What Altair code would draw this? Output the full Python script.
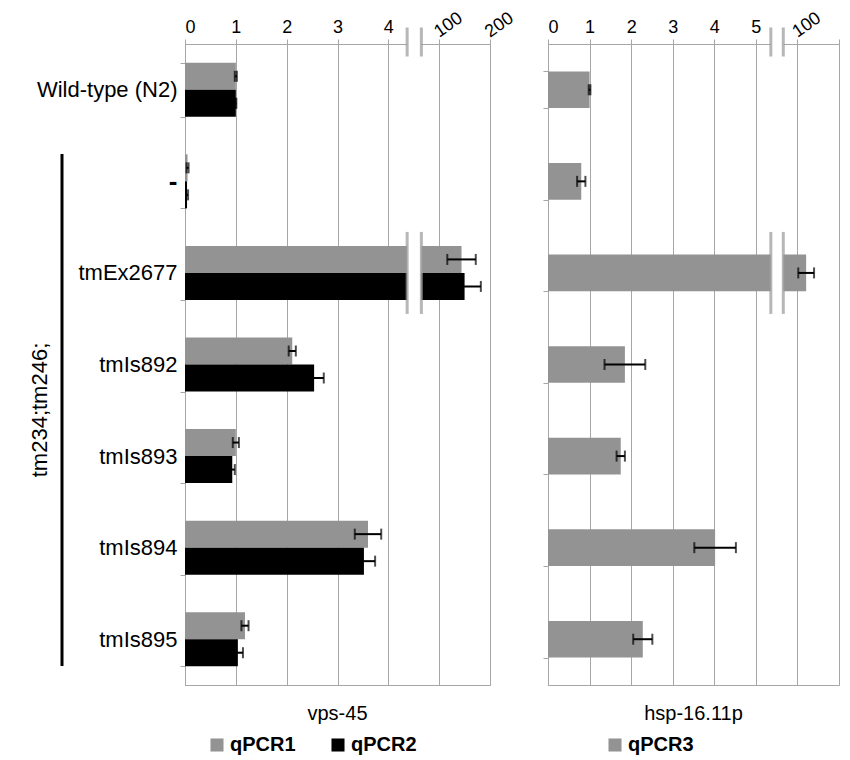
import altair as alt
import pandas as pd

FONT = "Liberation Sans"
GRAY = "#939393"
AXIS_GRAY = "#a6a6a6"

strains = ["Wild-type (N2)", "-", "tmEx2677", "tmIs892", "tmIs893", "tmIs894", "tmIs895"]
group_label = ["tm234;tm246;"]

# vps-45 panel
qpcr1 = [1.0, 0.05, 144, 2.11, 1.00, 3.60, 1.18]
qpcr1_err = [0.02, 0.02, 28, 0.07, 0.06, 0.26, 0.07]
qpcr2 = [1.0, 0.04, 150, 2.54, 0.93, 3.52, 1.04]
qpcr2_err = [0.01, 0.02, 32, 0.19, 0.05, 0.22, 0.10]

# hsp-16.11p panel
qpcr3 = [1.0, 0.80, 121, 1.85, 1.75, 4.02, 2.28]
qpcr3_err = [0.02, 0.10, 19, 0.49, 0.10, 0.50, 0.23]

left_ticks = ["0", "1", "2", "3", "4", "100", "200"]
right_ticks = ["0", "1", "2", "3", "4", "5", "100", ""]

left_break = [4.37, 4.65]
right_break = [5.36, 5.66]

HEIGHT = 641


def make_df(series_names, values_list, errs_list):
    rows = []
    for i, s in enumerate(strains):
        for name, vals, errs in zip(series_names, values_list, errs_list):
            rows.append({"strain": s, "series": name, "value": vals[i], "err": errs[i]})
    return pd.DataFrame(rows)


def panel(df, series, colors, base, ticks, brk, width, title, legend_x, show_labels, pad_inner):
    n_lin = ticks.index("100")
    xmax = len(ticks) - 1
    disp = lambda f: f"{f} < 50 ? {f} : {base} + {f} / 100"
    xs = alt.Scale(domain=[0, xmax], nice=False, zero=True)

    yaxis = alt.Axis(
        title=None,
        labels=show_labels,
        labelFont=FONT,
        labelFontSize=alt.condition("datum.value == '-'", alt.value(26), alt.value(22)),
        labelFontWeight=alt.condition("datum.value == '-'", alt.value("bold"), alt.value("normal")),
        labelColor="black",
        labelPadding=3,
        tickBand="extent",
        tickSize=5,
        tickColor=AXIS_GRAY,
        domainColor=AXIS_GRAY,
        grid=False,
        labelLimit=300,
    )
    enc_y = alt.Y("strain:N", sort=strains, title=None,
                  scale=alt.Scale(paddingInner=pad_inner, paddingOuter=pad_inner / 2),
                  axis=yaxis)
    yoff = alt.YOffset("series:N", sort=series, scale=alt.Scale(domain=series, paddingInner=0))

    xaxis = alt.Axis(
        orient="top",
        title=None,
        values=list(range(0, xmax + 1)),
        labelExpr=f"datum.value < {n_lin} ? datum.label : ''",
        labelFont=FONT,
        labelFontSize=18,
        labelColor="black",
        labelPadding=3,
        tickSize=5,
        tickColor=AXIS_GRAY,
        domainColor=AXIS_GRAY,
        grid=True,
        gridColor=AXIS_GRAY,
    )

    base_chart = (
        alt.Chart(df)
        .transform_calculate(lo="datum.value - datum.err")
        .transform_calculate(hi="datum.value + datum.err")
        .transform_calculate(d=disp("datum.value"))
        .transform_calculate(dlo=disp("datum.lo"))
        .transform_calculate(dhi=disp("datum.hi"))
    )

    legend = alt.Legend(
        orient="none", legendX=legend_x, legendY=HEIGHT + 50, direction="horizontal",
        title=None, symbolType="square", symbolSize=170, symbolStrokeWidth=0,
        labelFont=FONT, labelFontSize=20, labelFontWeight="bold", labelColor="black",
        labelOffset=3, columnPadding=32,
    )

    bars = base_chart.mark_bar().encode(
        x=alt.X("d:Q", scale=xs, axis=xaxis),
        y=enc_y,
        yOffset=yoff,
        color=alt.Color("series:N", scale=alt.Scale(domain=series, range=colors), legend=legend),
    )
    err_line = base_chart.mark_rule(color="black", strokeWidth=2).encode(
        x=alt.X("dlo:Q", scale=xs, title=None), x2="dhi:Q", y=enc_y, yOffset=yoff,
    )
    cap_lo = base_chart.mark_tick(color="black", thickness=2, size=11, orient="vertical").encode(
        x=alt.X("dlo:Q", scale=xs, title=None), y=enc_y, yOffset=yoff,
    )
    cap_hi = base_chart.mark_tick(color="black", thickness=2, size=11, orient="vertical").encode(
        x=alt.X("dhi:Q", scale=xs, title=None), y=enc_y, yOffset=yoff,
    )

    brk_df = pd.DataFrame({"strain": ["tmEx2677"], "b1": [brk[0]], "b2": [brk[1]]})
    gap = alt.Chart(brk_df).mark_bar(color="white", height=70).encode(
        x=alt.X("b1:Q", scale=xs, title=None), x2="b2:Q", y=enc_y,
    )
    gap_lines = alt.Chart(brk_df).transform_fold(["b1", "b2"]).mark_tick(
        color="#999999", thickness=3, size=82, orient="vertical"
    ).encode(x=alt.X("value:Q", scale=xs, title=None), y=enc_y)
    axis_gap = alt.Chart(brk_df).mark_rect(color="white").encode(
        x=alt.X("b1:Q", scale=xs, title=None), x2="b2:Q", y=alt.value(-2), y2=alt.value(2),
    )
    axis_lines = alt.Chart(brk_df).transform_fold(["b1", "b2"]).mark_tick(
        color="#999999", thickness=3, size=29, orient="vertical"
    ).encode(x=alt.X("value:Q", scale=xs, title=None), y=alt.value(-2))

    rot_df = pd.DataFrame({"pos": list(range(n_lin, xmax + 1)), "lab": ticks[n_lin:]})
    rot = alt.Chart(rot_df).mark_text(
        angle=325, align="left", baseline="alphabetic", font=FONT, fontSize=18, color="black", dx=0
    ).encode(x=alt.X("pos:Q", scale=xs, title=None), y=alt.value(-6), text="lab:N")

    title_df = pd.DataFrame({"t": [title]})
    title_text = alt.Chart(title_df).mark_text(
        font=FONT, fontSize=20, color="black", align="center", baseline="middle"
    ).encode(x=alt.value(width / 2), y=alt.value(HEIGHT + 29), text="t:N")

    layers = [bars, err_line, cap_lo, cap_hi, gap, gap_lines, axis_gap, axis_lines, rot, title_text]

    if show_labels:
        grp_df = pd.DataFrame({"lab": group_label})
        grp_text = alt.Chart(grp_df).mark_text(
            angle=270, font=FONT, fontSize=22, color="black", align="center", baseline="middle"
        ).encode(x=alt.value(-145), y=alt.value(366), text="lab:N")
        grp_line = alt.Chart(grp_df).mark_rule(color="black", strokeWidth=3).encode(
            x=alt.value(-123), y=alt.value(110), y2=alt.value(622)
        )
        layers += [grp_text, grp_line]

    return alt.layer(*layers).properties(width=width, height=HEIGHT)


left_df = make_df(["qPCR1", "qPCR2"], [qpcr1, qpcr2], [qpcr1_err, qpcr2_err])
right_df = make_df(["qPCR3"], [qpcr3], [qpcr3_err])

left = panel(left_df, ["qPCR1", "qPCR2"], [GRAY, "black"], 4, left_ticks, left_break,
             305, "vps-45", 22, True, 0.41)
right = panel(right_df, ["qPCR3"], [GRAY], 5, right_ticks, right_break,
              291, "hsp-16.11p", 57, False, 0.6)

chart = (
    alt.hconcat(left, right, spacing=24)
    .resolve_scale(x="independent", y="independent", color="independent", yOffset="independent")
    .resolve_legend(color="independent")
    .properties(padding={"left": 20, "top": 0, "right": 0, "bottom": 0})
    .configure_view(stroke=AXIS_GRAY, strokeWidth=1)
)

chart.save("out.html", embed_options={"renderer": "svg", "actions": False})
